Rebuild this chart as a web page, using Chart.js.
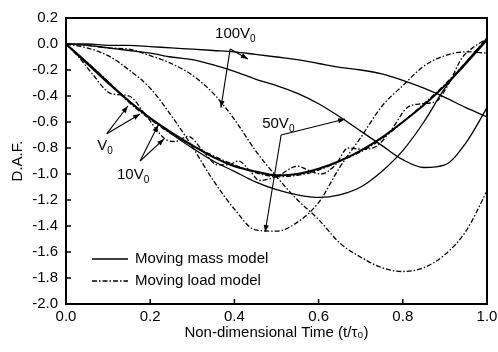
<!DOCTYPE html>
<html lang="en">
<head>
<meta charset="UTF-8">
<title>D.A.F. vs non-dimensional time</title>
<script src="https://cdn.jsdelivr.net/npm/chart.js"></script>
<style>
  html, body { margin: 0; padding: 0; background: #fff; }
  #wrap { width: 498px; height: 352px; }
</style>
</head>
<body>
<div id="wrap"><canvas id="daf"></canvas></div>
<script>
// time grid (t / tau0) shared by the smooth curves
const tGrid = [0, 0.05, 0.1, 0.15, 0.2, 0.25, 0.3, 0.35, 0.4, 0.45, 0.5,
               0.55, 0.6, 0.65, 0.7, 0.75, 0.8, 0.85, 0.9, 0.95, 1.0];

// moving mass model (solid)
const massV0   = [0, -0.15, -0.3, -0.44, -0.57, -0.68, -0.78, -0.87, -0.94, -0.98, -1.01,
                  -1.0, -0.96, -0.9, -0.82, -0.72, -0.6, -0.47, -0.32, -0.15, 0.03];
const mass10V0 = [0, -0.14, -0.29, -0.44, -0.57, -0.69, -0.8, -0.9, -0.98, -1.06, -1.12,
                  -1.16, -1.18, -1.16, -1.1, -0.98, -0.82, -0.6, -0.34, -0.14, 0.04];
const mass50V0 = [0, -0.01, -0.03, -0.05, -0.07, -0.1, -0.12, -0.16, -0.21, -0.27, -0.32,
                  -0.38, -0.46, -0.56, -0.67, -0.78, -0.89, -0.95, -0.93, -0.76, -0.49];
const mass100V0 = [0, 0, -0.01, -0.01, -0.02, -0.03, -0.04, -0.05, -0.06, -0.08, -0.1,
                   -0.12, -0.15, -0.18, -0.2, -0.23, -0.28, -0.34, -0.41, -0.49, -0.56];

// moving load model (dash-dot)
const loadV0   = [0, -0.14, -0.29, -0.45, -0.58, -0.69, -0.78, -0.86, -0.93, -0.99, -1.02,
                  -1.01, -0.97, -0.9, -0.83, -0.73, -0.6, -0.46, -0.31, -0.14, 0.05];
const load50V0 = [0, -0.03, -0.09, -0.2, -0.34, -0.55, -0.79, -1.05, -1.27, -1.43, -1.44,
                  -1.37, -1.22, -0.95, -0.72, -0.48, -0.32, -0.17, -0.09, -0.06, -0.07];
const load100V0 = [0, -0.01, -0.03, -0.04, -0.09, -0.15, -0.24, -0.38, -0.58, -0.82, -1.02,
                   -1.2, -1.35, -1.53, -1.64, -1.72, -1.75, -1.72, -1.62, -1.44, -1.13];

// 10V0 moving load oscillates, so it has its own finer time samples
const tLoad10  = [0, 0.03, 0.065, 0.1, 0.125, 0.15, 0.19, 0.235, 0.26, 0.29, 0.325, 0.36,
                  0.385, 0.41, 0.435, 0.46, 0.5, 0.55, 0.575, 0.605, 0.64, 0.67, 0.705,
                  0.74, 0.775, 0.81, 0.845, 0.88, 0.91, 0.94, 0.97, 1.0];
const load10V0 = [0, -0.1, -0.24, -0.37, -0.39, -0.4, -0.55, -0.73, -0.75, -0.71, -0.82, -0.93,
                  -0.93, -0.9, -0.97, -1.05, -1.02, -0.94, -0.97, -1.0, -0.93, -0.8, -0.81,
                  -0.78, -0.65, -0.49, -0.46, -0.44, -0.3, -0.11, -0.02, 0.04];

const xTicks = [0, 0.2, 0.4, 0.6, 0.8, 1.0];
const yTicks = [0.2, 0, -0.2, -0.4, -0.6, -0.8, -1.0, -1.2, -1.4, -1.6, -1.8, -2.0];

// callout labels with arrows (data coords): text, subscript, label pos, arrow start, arrow tips
const callouts = [
  { main: '100V', sub: '0', at: [0.354, 0.046], from: [0.39, -0.038], tips: [[0.432, -0.115], [0.368, -0.49]] },
  { main: '50V',  sub: '0', at: [0.466, -0.646], from: [0.511, -0.70], tips: [[0.663, -0.577], [0.473, -1.446]] },
  { main: 'V',    sub: '0', at: [0.074, -0.815], from: [0.097, -0.69], tips: [[0.147, -0.477], [0.176, -0.538]] },
  { main: '10V',  sub: '0', at: [0.121, -1.04], from: [0.176, -0.90], tips: [[0.219, -0.623], [0.233, -0.73]] }
];

const FONT = 'Liberation Sans, Arial, sans-serif';
const DASHDOT = [5, 2, 1.5, 2];

function pts(ts, vs) { return ts.map((t, i) => ({ x: t, y: vs[i] })); }

function mk(label, ts, vs, dashed, width) {
  return {
    label: label,
    data: pts(ts, vs),
    borderColor: '#000',
    borderWidth: width || 1.3,
    borderDash: dashed ? DASHDOT : [],
    pointRadius: 0,
    fill: false,
    cubicInterpolationMode: 'monotone'
  };
}

function arrow(ctx, x1, y1, x2, y2) {
  ctx.beginPath();
  ctx.moveTo(x1, y1);
  ctx.lineTo(x2, y2);
  ctx.stroke();
  const a = Math.atan2(y2 - y1, x2 - x1);
  const L = 7, W = 2.6;
  ctx.beginPath();
  ctx.moveTo(x2, y2);
  ctx.lineTo(x2 - L * Math.cos(a) + W * Math.sin(a), y2 - L * Math.sin(a) - W * Math.cos(a));
  ctx.lineTo(x2 - L * Math.cos(a) - W * Math.sin(a), y2 - L * Math.sin(a) + W * Math.cos(a));
  ctx.closePath();
  ctx.fill();
}

const decor = {
  id: 'decor',
  afterDraw(chart) {
    const { ctx, chartArea: a, scales: { x, y } } = chart;
    ctx.save();
    ctx.strokeStyle = '#000';
    ctx.fillStyle = '#000';
    ctx.setLineDash([]);

    // frame
    ctx.lineWidth = 2;
    ctx.strokeRect(a.left, a.top, a.right - a.left, a.bottom - a.top);

    // inward ticks
    ctx.lineWidth = 1.5;
    xTicks.forEach(v => {
      const px = x.getPixelForValue(v);
      ctx.beginPath(); ctx.moveTo(px, a.bottom); ctx.lineTo(px, a.bottom - 5); ctx.stroke();
    });
    yTicks.forEach(v => {
      const py = y.getPixelForValue(v);
      ctx.beginPath(); ctx.moveTo(a.left, py); ctx.lineTo(a.left + 5, py); ctx.stroke();
    });

    // callouts
    ctx.lineWidth = 1.1;
    callouts.forEach(c => {
      const fx = x.getPixelForValue(c.from[0]), fy = y.getPixelForValue(c.from[1]);
      c.tips.forEach(t => arrow(ctx, fx, fy, x.getPixelForValue(t[0]), y.getPixelForValue(t[1])));
      const lx = x.getPixelForValue(c.at[0]), ly = y.getPixelForValue(c.at[1]);
      ctx.textBaseline = 'alphabetic';
      ctx.textAlign = 'left';
      ctx.font = '15px ' + FONT;
      ctx.fillText(c.main, lx, ly);
      const w = ctx.measureText(c.main).width;
      ctx.font = '10px ' + FONT;
      ctx.fillText(c.sub, lx + w, ly + 4);
    });

    // legend inside the plot
    const lx0 = a.left + 26, lx1 = a.left + 62;
    const rows = [['Moving mass model', []], ['Moving load model', DASHDOT]];
    rows.forEach((r, i) => {
      const ry = a.bottom - 45 + i * 22;
      ctx.lineWidth = 1.3;
      ctx.setLineDash(r[1]);
      ctx.beginPath(); ctx.moveTo(lx0, ry); ctx.lineTo(lx1, ry); ctx.stroke();
      ctx.setLineDash([]);
      ctx.font = '15px ' + FONT;
      ctx.textBaseline = 'middle';
      ctx.fillText(r[0], lx1 + 7, ry);
    });
    ctx.restore();
  }
};

new Chart(document.getElementById('daf'), {
  type: 'line',
  data: {
    datasets: [
      mk('V0 mass', tGrid, massV0, false, 2),
      mk('V0 load', tGrid, loadV0, true, 1.3),
      mk('10V0 mass', tGrid, mass10V0, false),
      mk('10V0 load', tLoad10, load10V0, true),
      mk('50V0 mass', tGrid, mass50V0, false),
      mk('50V0 load', tGrid, load50V0, true),
      mk('100V0 mass', tGrid, mass100V0, false),
      mk('100V0 load', tGrid, load100V0, true)
    ]
  },
  options: {
    responsive: true,
    maintainAspectRatio: false,
    animation: false,
    layout: { padding: { left: 0, top: 18, right: 11, bottom: 0 } },
    plugins: { legend: { display: false }, tooltip: { enabled: false } },
    scales: {
      x: {
        type: 'linear',
        min: 0, max: 1,
        grid: { display: false, drawTicks: false },
        border: { display: false },
        afterBuildTicks: s => { s.ticks = xTicks.map(v => ({ value: v })); },
        afterFit: s => { s.height = 48; s.paddingLeft = 0; s.paddingRight = 0; },
        ticks: {
          padding: 4,
          color: '#000',
          font: { family: FONT, size: 15 },
          callback: v => v.toFixed(1)
        },
        title: {
          display: true,
          text: 'Non-dimensional Time (t/τ₀)',
          color: '#000',
          font: { family: FONT, size: 15 },
          padding: { top: 0, bottom: 10 }
        }
      },
      y: {
        min: -2.0, max: 0.2,
        grid: { display: false, drawTicks: false },
        border: { display: false },
        afterBuildTicks: s => { s.ticks = yTicks.map(v => ({ value: v })); },
        afterFit: s => { s.width = 66; s.paddingTop = 0; s.paddingBottom = 0; },
        ticks: {
          padding: 8,
          color: '#000',
          font: { family: FONT, size: 15 },
          callback: v => (Math.abs(v) < 1e-9 ? 0 : v).toFixed(1)
        },
        title: {
          display: true,
          text: 'D.A.F.',
          color: '#000',
          font: { family: FONT, size: 15 },
          padding: { top: 9, bottom: 0 }
        }
      }
    }
  },
  plugins: [decor]
});
</script>
</body>
</html>
